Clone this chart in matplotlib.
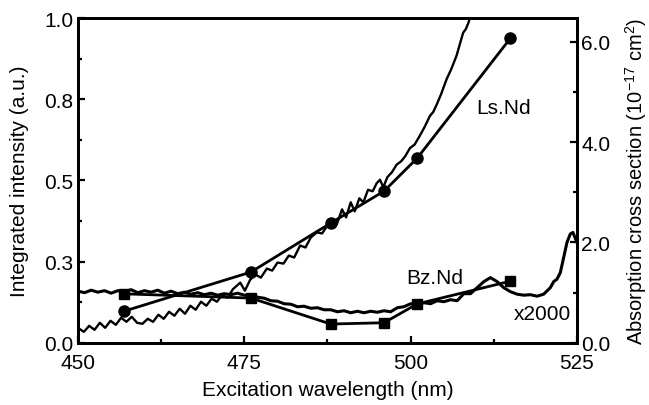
import matplotlib
matplotlib.use("Agg")
import matplotlib.pyplot as plt
from matplotlib.ticker import MultipleLocator

plt.rcParams['font.family'] = ['Liberation Sans', 'DejaVu Sans']
plt.rcParams['mathtext.fontset'] = 'custom'
plt.rcParams['mathtext.rm'] = 'Liberation Sans'
plt.rcParams['mathtext.it'] = 'Liberation Sans'

# excitation points (left axis, integrated intensity)
exc_wl = [457, 476, 488, 496, 501, 515]
ls_int = [0.098, 0.218, 0.369, 0.467, 0.569, 0.938]
bz_int = [0.151, 0.138, 0.058, 0.062, 0.120, 0.190]

# absorption spectra (right axis, 1e-17 cm^2)
ls_wl = [450.0, 450.9, 451.7, 452.5, 453.3, 454.1, 454.9, 455.7, 456.5, 457.3,
         458.1, 458.9, 459.7, 460.5, 461.3, 462.1, 462.9, 463.7, 464.5, 465.3,
         466.1, 466.9, 467.7, 468.5, 469.3, 470.1, 470.9, 471.7, 472.5, 473.3,
         474.4, 475.1, 475.9, 476.7, 477.5, 478.4, 479.2, 480.0, 480.9, 481.7,
         482.5, 483.4, 484.2, 485.0, 485.9, 486.7, 487.4, 488.2, 488.9, 489.7,
         490.3, 491.0, 491.6, 492.3, 492.9, 493.6, 494.3, 494.9, 495.4, 495.9,
         496.5, 497.2, 497.9, 498.6, 499.2, 499.9, 500.6, 501.4, 502.1, 502.9,
         503.4, 503.9, 504.6, 505.4, 506.1, 506.9, 507.4, 507.9, 508.3, 508.7,
         509.1]
ls_abs = [0.30, 0.22, 0.34, 0.26, 0.40, 0.30, 0.44, 0.36, 0.50, 0.42,
          0.52, 0.40, 0.38, 0.48, 0.42, 0.56, 0.48, 0.62, 0.54, 0.68,
          0.58, 0.74, 0.66, 0.82, 0.74, 0.88, 0.82, 0.96, 0.90, 1.07,
          1.20, 1.04, 1.26, 1.36, 1.30, 1.48, 1.44, 1.60, 1.58, 1.74,
          1.70, 1.94, 1.90, 2.10, 2.20, 2.18, 2.32, 2.40, 2.36, 2.66,
          2.50, 2.80, 2.62, 2.88, 2.80, 3.05, 3.02, 3.18, 3.25, 3.10,
          3.30, 3.40, 3.55, 3.62, 3.72, 3.88, 3.95, 4.13, 4.30, 4.52,
          4.60, 4.74, 4.96, 5.25, 5.45, 5.72, 5.95, 6.18, 6.25, 6.38,
          6.55]

bz_wl = [450, 451, 452, 453, 454, 455, 456, 457, 458, 459,
         460, 461, 462, 463, 464, 465, 466, 467, 468, 469,
         470, 471, 472, 473, 474, 475, 476, 477, 478, 479,
         480, 481, 482, 483, 484, 485, 486, 487, 488, 489,
         490, 491, 492, 493, 494, 495, 496, 497, 498, 499,
         500, 501, 502, 503, 504, 505, 506, 507, 508, 509,
         510, 511, 512, 512.5, 513, 513.5, 514, 515, 516, 517,
         518, 519, 520, 521, 521.5, 522, 522.5, 523, 523.5, 524.0,
         524.4, 525]
bz_abs = [1.03, 1.00, 1.05, 1.01, 1.04, 0.99, 1.04, 1.02, 1.06, 1.00,
          1.04, 1.01, 1.05, 0.99, 1.03, 0.98, 1.01, 0.97, 1.00, 0.96,
          0.99, 0.95, 0.98, 0.96, 0.99, 0.95, 0.96, 0.91, 0.89, 0.84,
          0.83, 0.78, 0.77, 0.72, 0.73, 0.69, 0.70, 0.66, 0.66, 0.62,
          0.64, 0.60, 0.63, 0.60, 0.63, 0.61, 0.64, 0.62, 0.70, 0.72,
          0.78, 0.76, 0.80, 0.78, 0.84, 0.82, 0.86, 0.84, 0.98, 0.98,
          1.10, 1.22, 1.30, 1.26, 1.22, 1.16, 1.10, 1.02, 0.97, 0.95,
          0.96, 0.93, 0.97, 1.10, 1.22, 1.27, 1.40, 1.70, 2.00, 2.17,
          2.20, 2.00]

left_ticks = [0.0, 0.25, 0.5, 0.75, 1.0]
left_labels = ['0.0', '0.3', '0.5', '0.8', '1.0']
right_ticks = [0, 2, 4, 6]
right_labels = ['0.0', '2.0', '4.0', '6.0']
x_ticks = [450, 475, 500, 525]

fig = plt.figure(figsize=(6.49, 4.06), dpi=100)
ax = fig.add_axes([0.120, 0.153, 0.769, 0.800])
ax2 = ax.twinx()

ax.plot(exc_wl, ls_int, color='black', lw=2, marker='o', ms=8, zorder=3)
ax.plot(exc_wl, bz_int, color='black', lw=2, marker='s', ms=7, zorder=3)
ax2.plot(ls_wl, ls_abs, color='black', lw=1.7)
ax2.plot(bz_wl, bz_abs, color='black', lw=2.2)

ax.set_xlim(450, 525)
ax.set_ylim(0, 1.0)
ax2.set_ylim(0, 6.47)

ax.set_xticks(x_ticks)
ax.xaxis.set_minor_locator(MultipleLocator(12.5))
ax.set_yticks(left_ticks)
ax.set_yticklabels(left_labels)
ax.yaxis.set_minor_locator(MultipleLocator(0.125))
ax2.set_yticks(right_ticks)
ax2.set_yticklabels(right_labels)
ax2.yaxis.set_minor_locator(MultipleLocator(1.0))

for a in (ax, ax2):
    a.tick_params(which='both', direction='in', labelsize=15, width=1.6)
    a.tick_params(which='major', length=5)
    a.tick_params(which='minor', length=3)
    for s in a.spines.values():
        s.set_linewidth(2)
ax.tick_params(axis='x', which='both', top=False, pad=7)
ax.tick_params(axis='y', pad=3)
ax2.tick_params(axis='y', pad=3)

ax.set_xlabel("Excitation wavelength (nm)", fontsize=15, labelpad=6)
ax.set_ylabel("Integrated intensity (a.u.)", fontsize=15, labelpad=11)
ax2.set_ylabel("Absorption cross section (10$^{-17}$ cm$^{2}$)", fontsize=14.5, labelpad=9)

ax.text(513.9, 0.725, "Ls.Nd", fontsize=15, ha='center', va='center')
ax.text(503.7, 0.2, "Bz.Nd", fontsize=15, ha='center', va='center')
ax.text(519.8, 0.092, "x2000", fontsize=15, ha='center', va='center')

fig.savefig("out.png", dpi=100)
